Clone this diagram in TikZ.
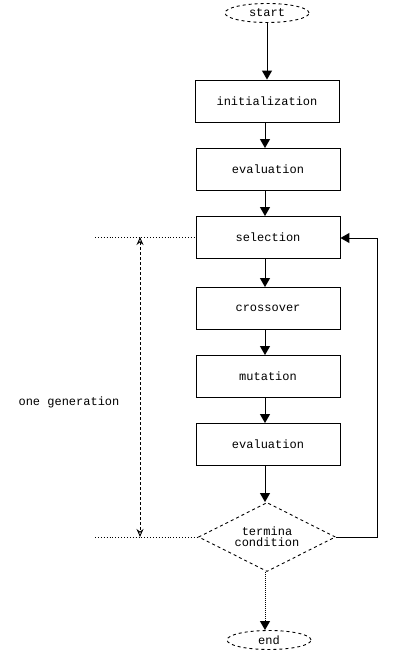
\documentclass[tikz,border=0pt]{standalone}
\usepackage{fontspec}
\setmonofont{Liberation Mono}
\usetikzlibrary{shapes.geometric,arrows.meta}
\tikzset{
  lbl/.style={font=\ttfamily\fontsize{12}{13}\selectfont, text=black},
  procbox/.style={draw, line width=0.9pt, minimum width=144pt, minimum height=42pt, inner sep=0pt, lbl},
  termbox/.style={draw, dashed, line width=0.9pt, ellipse, minimum width=84pt, minimum height=19pt, inner sep=0pt, lbl},
  decbox/.style={draw, dashed, line width=0.9pt, diamond, minimum width=137pt, minimum height=69pt, aspect=2, inner sep=0pt, lbl, align=center},
  flow/.style={line width=1pt, -{Triangle[length=9pt,width=10pt]}},
  guide/.style={dotted, line width=0.9pt},
  span/.style={densely dashed, line width=0.9pt, {Stealth[open,length=8pt,width=7pt]}-{Stealth[open,length=8pt,width=7pt]}}
}
\begin{document}
\begin{tikzpicture}[x=1pt,y=-1pt]
\useasboundingbox (0,0) rectangle (394,652);
\node[termbox] (start) at (267,13) {start};
\node[procbox] (init) at (267,101) {initialization};
\node[procbox] (eval1) at (268,169.5) {evaluation};
\node[procbox] (sel) at (268,237.5) {selection};
\node[procbox] (cross) at (268,308.5) {crossover};
\node[procbox] (mut) at (268,376.5) {mutation};
\node[procbox] (eval2) at (268,444.5) {evaluation};
\node[decbox] (cond) at (267,537) {termina\\[-2pt]condition};
\node[termbox] (end) at (269,640) {end};
\node[lbl] (gen) at (69,402) {one generation};

\draw[flow] (start.south) -- (start.south |- init.north);
\draw[flow] (init.south -| 265,0) -- (eval1.north -| 265,0);
\draw[flow] (eval1.south -| 265,0) -- (sel.north -| 265,0);
\draw[flow] (sel.south -| 265,0) -- (cross.north -| 265,0);
\draw[flow] (cross.south -| 265,0) -- (mut.north -| 265,0);
\draw[flow] (mut.south -| 265,0) -- (eval2.north -| 265,0);
\draw[flow] (eval2.south -| 265,0) -- (cond.north -| 265,0);
\draw[flow, densely dotted] (cond.south -| 265,0) -- (end.north -| 265,0);

\coordinate (fbR) at (377,537);
\coordinate (fbT) at (377,238);
\draw[flow] (cond.east) -- (fbR) -- (fbT) -- (sel.east |- fbT);

\coordinate (gtop) at (95,237);
\coordinate (gbot) at (95,537);
\draw[guide] (gtop) -- (sel.west |- gtop);
\draw[guide] (gbot) -- (cond.west);
\coordinate (atop) at (140,237);
\coordinate (abot) at (140,537);
\draw[span] (atop) -- (abot);
\end{tikzpicture}
\end{document}
